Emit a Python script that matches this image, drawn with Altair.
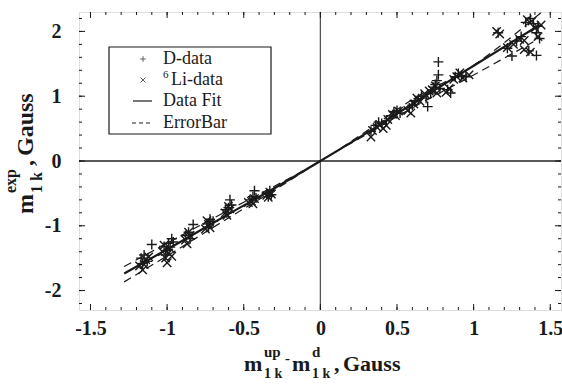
import altair as alt
import pandas as pd
import numpy as np

# ---------------- data ----------------
d_x = [-1.17, -1.15, -1.16, -1.10, -1.13, -1.02, -1.00, -0.99, -0.97, -1.01, -0.98, -0.96,
       -0.88, -0.86, -0.83, -0.85, -0.74, -0.72, -0.73, -0.70, -0.61, -0.59, -0.60, -0.58, -0.62,
       -0.46, -0.44, -0.43, -0.42, -0.35, -0.33, -0.32, -0.34,
       0.33, 0.36, 0.38, 0.40, 0.43, 0.46, 0.48, 0.50, 0.52, 0.58, 0.60, 0.62, 0.64, 0.66, 0.69,
       0.70, 0.72, 0.74, 0.75, 0.76, 0.77, 0.77, 0.78, 0.83, 0.85, 0.88, 0.90, 0.92, 0.95,
       1.16, 1.22, 1.25, 1.28, 1.31, 1.34, 1.37, 1.39, 1.41, 1.42, 1.43, 1.41, 1.36]
d_y = [-1.50, -1.45, -1.58, -1.29, -1.55, -1.32, -1.38, -1.27, -1.20, -1.45, -1.33, -1.25,
       -1.15, -1.10, -0.98, -1.20, -0.97, -0.90, -1.02, -0.93, -0.80, -0.60, -0.72, -0.68, -0.75,
       -0.60, -0.55, -0.46, -0.57, -0.50, -0.46, -0.52, -0.55,
       0.46, 0.55, 0.60, 0.58, 0.62, 0.70, 0.76, 0.78, 0.74, 0.82, 0.86, 0.93, 0.96, 1.00, 0.97,
       0.84, 1.05, 1.14, 1.18, 1.24, 1.33, 1.53, 1.12, 1.10, 1.05, 1.30, 1.35, 1.32, 1.30,
       1.98, 1.74, 1.62, 1.85, 1.92, 2.14, 2.20, 2.12, 1.98, 2.08, 1.89, 1.63, 1.70]

li_x = [-1.18, -1.16, -1.14, -1.15, -1.12, -1.03, -1.01, -1.00, -0.99, -0.98, -0.97, -1.02,
        -0.88, -0.87, -0.85, -0.86, -0.75, -0.73, -0.72, -0.74, -0.62, -0.61, -0.59, -0.60,
        -0.47, -0.45, -0.43, -0.44, -0.35, -0.34, -0.33, -0.32,
        0.33, 0.34, 0.37, 0.39, 0.41, 0.43, 0.44, 0.47, 0.49, 0.51, 0.57, 0.59, 0.61, 0.63, 0.65,
        0.68, 0.71, 0.73, 0.75, 0.76, 0.82, 0.84, 0.87, 0.89, 0.91, 0.93, 0.97,
        1.15, 1.17, 1.22, 1.26, 1.30, 1.33, 1.35, 1.38, 1.40, 1.33, 1.37, 1.42, 1.44]
li_y = [-1.62, -1.68, -1.52, -1.60, -1.48, -1.40, -1.50, -1.57, -1.42, -1.35, -1.47, -1.30,
        -1.22, -1.28, -1.15, -1.10, -1.05, -0.98, -1.03, -0.92, -0.80, -0.84, -0.74, -0.70,
        -0.64, -0.62, -0.58, -0.66, -0.53, -0.56, -0.48, -0.51,
        0.37, 0.47, 0.52, 0.56, 0.50, 0.55, 0.64, 0.72, 0.70, 0.77, 0.78, 0.74, 0.88, 0.97, 0.92,
        1.04, 1.08, 1.10, 1.16, 1.05, 1.06, 1.12, 1.26, 1.30, 1.36, 1.28, 1.33,
        2.00, 1.96, 1.75, 1.80, 1.88, 1.86, 2.18, 2.16, 2.05, 1.72, 1.68, 1.92, 2.10]

fit_x = [-1.28, -0.9, -0.6, -0.3, 0.0, 0.3, 0.6, 1.0, 1.43]
fit_y = [-1.737, -1.23, -0.82, -0.42, 0.0, 0.43, 0.88, 1.47, 2.10]

up_x = [-1.28, -0.9, -0.6, -0.3, 0.0, 0.3, 0.6, 0.95, 1.45]
up_y = [-1.63, -1.14, -0.76, -0.39, 0.0, 0.46, 0.95, 1.40, 2.31]

lo_x = [-1.28, -0.9, -0.6, -0.3, 0.0, 0.3, 0.6, 1.04, 1.39]
lo_y = [-1.866, -1.32, -0.88, -0.45, 0.0, 0.41, 0.82, 1.38, 1.84]

x_labels = [-1.5, -1.0, -0.5, 0.0, 0.5, 1.0, 1.5]
y_labels = [-2, -1, 0, 1, 2]

legend_labels = ["D-data", "Li-data", "Data Fit", "ErrorBar"]
legend_sup = "6"

# --------------- setup ---------------
W, H = 482, 298
XDOM = [-1.575, 1.57]
YDOM = [-2.3, 2.3]
FONT = "Liberation Serif"
INK = "#1a1a1a"
PLUS = "M-1,0L1,0M0,-1L0,1"
CROSS = "M-1,-1L1,1M-1,1L1,-1"
LEXPR = "replace(datum.label, '\u2212', '-')"

xs = alt.Scale(domain=XDOM, nice=False, zero=False)
ys = alt.Scale(domain=YDOM, nice=False, zero=False)

xaxis = alt.Axis(values=x_labels, format="~g", ticks=False, domain=False, grid=False, title=None,
                 labelFont=FONT, labelFontWeight="bold", labelFontSize=20, labelColor=INK,
                 labelPadding=8, labelFlush=False, labelOverlap=False, labelExpr=LEXPR)
yaxis = alt.Axis(values=y_labels, format="~g", ticks=False, domain=False, grid=False, title=None,
                 labelFont=FONT, labelFontWeight="bold", labelFontSize=20, labelColor=INK,
                 labelPadding=18, labelFlush=False, labelOverlap=False, labelExpr=LEXPR)

d_df = pd.DataFrame({"x": d_x, "y": d_y})
li_df = pd.DataFrame({"x": li_x, "y": li_y})
fit_df = pd.DataFrame({"x": fit_x, "y": fit_y})
up_df = pd.DataFrame({"x": up_x, "y": up_y})
lo_df = pd.DataFrame({"x": lo_x, "y": lo_y})

base_x = alt.X("x:Q", scale=xs, axis=xaxis)
base_y = alt.Y("y:Q", scale=ys, axis=yaxis)

pts_d = alt.Chart(d_df).mark_point(shape=PLUS, filled=False, size=100, strokeWidth=1.4,
                                   color=INK, opacity=1).encode(x=base_x, y=base_y)
pts_li = alt.Chart(li_df).mark_point(shape=CROSS, filled=False, size=70, strokeWidth=1.4,
                                     color=INK, opacity=1).encode(x=base_x, y=base_y)

def line(df, width, dash=None):
    kw = dict(color=INK, strokeWidth=width, clip=True, interpolate="monotone")
    if dash:
        kw["strokeDash"] = dash
    return alt.Chart(df).mark_line(**kw).encode(
        x=alt.X("x:Q", scale=xs), y=alt.Y("y:Q", scale=ys), order="x:Q")

fit = line(fit_df, 2.2)
up = line(up_df, 1.2, [8, 5])
lo = line(lo_df, 1.2, [8, 5])

zero_v = alt.Chart(pd.DataFrame({"x": [0.0]})).mark_rule(color="#555", strokeWidth=1.3).encode(
    x=alt.X("x:Q", scale=xs))
zero_h = alt.Chart(pd.DataFrame({"y": [0.0]})).mark_rule(color="#222", strokeWidth=1.3).encode(
    y=alt.Y("y:Q", scale=ys))

# inward ticks on all four sides
xt_minor = pd.DataFrame({"x": np.round(np.arange(-15, 16) / 10, 1)})
yt_minor = pd.DataFrame({"y": np.round(np.arange(-11, 12) / 5, 1)})
xt_major = pd.DataFrame({"x": x_labels})
yt_major = pd.DataFrame({"y": y_labels})

def xticks(df, L):
    b = alt.Chart(df).mark_rule(color=INK, strokeWidth=1)
    return (b.encode(x=alt.X("x:Q", scale=xs), y=alt.value(H), y2=alt.value(H - L)) +
            b.encode(x=alt.X("x:Q", scale=xs), y=alt.value(0), y2=alt.value(L)))

def yticks(df, L):
    b = alt.Chart(df).mark_rule(color=INK, strokeWidth=1)
    return (b.encode(y=alt.Y("y:Q", scale=ys), x=alt.value(0), x2=alt.value(L)) +
            b.encode(y=alt.Y("y:Q", scale=ys), x=alt.value(W), x2=alt.value(W - L)))

ticks = xticks(xt_minor, 3) + xticks(xt_major, 6) + yticks(yt_minor, 3) + yticks(yt_major, 6)

# --------------- legend ---------------
one = pd.DataFrame({"a": [0]})
leg_box = alt.Chart(one).mark_rect(fill="white", stroke=INK, strokeWidth=1.2).encode(
    x=alt.value(30), x2=alt.value(192), y=alt.value(35), y2=alt.value(122))
rows = [47, 68, 89, 111]
text_x = [84, 92, 84, 84]
leg_layers = [leg_box]
for lab, ry, tx in zip(legend_labels, rows, text_x):
    leg_layers.append(alt.Chart(one).mark_text(text=lab, font=FONT, fontSize=18, align="left",
                                               baseline="middle", color=INK).encode(
        x=alt.value(tx), y=alt.value(ry)))
leg_layers.append(alt.Chart(one).mark_text(text=legend_sup, font=FONT, fontSize=11, align="left",
                                           baseline="middle", color=INK).encode(
    x=alt.value(84), y=alt.value(rows[1] - 5)))
leg_layers.append(alt.Chart(one).mark_point(shape=PLUS, filled=False, size=30, strokeWidth=1,
                                            color=INK).encode(x=alt.value(64), y=alt.value(rows[0])))
leg_layers.append(alt.Chart(one).mark_point(shape=CROSS, filled=False, size=25, strokeWidth=1,
                                            color=INK).encode(x=alt.value(64), y=alt.value(rows[1])))
leg_layers.append(alt.Chart(one).mark_rule(color=INK, strokeWidth=1.2).encode(
    x=alt.value(54), x2=alt.value(73), y=alt.value(rows[2])))
leg_layers.append(alt.Chart(one).mark_rule(color=INK, strokeWidth=1, strokeDash=[4, 3]).encode(
    x=alt.value(53), x2=alt.value(74), y=alt.value(rows[3])))

# --------------- axis titles (with sub/superscripts) ---------------
def txt(t, x, y, size, angle=0):
    return alt.Chart(one).mark_text(text=t, font=FONT, fontWeight="bold", fontSize=size,
                                    align="left", baseline="alphabetic", angle=angle,
                                    color=INK).encode(x=alt.value(x), y=alt.value(y))

ox, oy = 79, 12
XB = 371
xt_layers = [
    txt("m", 244 - ox, XB - oy, 22),
    txt("up", 264 - ox, XB - 14 - oy, 15),
    txt("1 k", 264 - ox, XB + 7 - oy, 14),
    txt("-", 285 - ox, XB - 8 - oy, 15),
    txt("m", 292 - ox, XB - oy, 22),
    txt("d", 312 - ox, XB - 14 - oy, 15),
    txt("1 k", 312 - ox, XB + 7 - oy, 14),
    txt(",", 334 - ox, XB - oy, 22),
    txt("Gauss", 343 - ox, XB - oy, 22),
]
YB = 33
yt_layers = [
    txt("m", YB - ox, 214 - oy, 24, 270),
    txt("exp", YB - 17 - ox, 193 - oy, 16, 270),
    txt("1 k", YB + 9 - ox, 193 - oy, 16, 270),
    txt(",", YB - ox, 166 - oy, 24, 270),
    txt("Gauss", YB - ox, 156 - oy, 24, 270),
]

chart = alt.layer(
    zero_v, zero_h, up, lo, fit, pts_li, pts_d, ticks, *leg_layers, *xt_layers, *yt_layers
).properties(
    width=W, height=H,
    autosize=alt.AutoSizeParams(type="none"),
    padding={"left": 79, "top": 12, "right": 1, "bottom": 74},
).configure_view(
    stroke=INK, strokeWidth=1.2
).configure(background="white")

chart.save("out.html", embed_options={"renderer": "svg", "actions": False})
